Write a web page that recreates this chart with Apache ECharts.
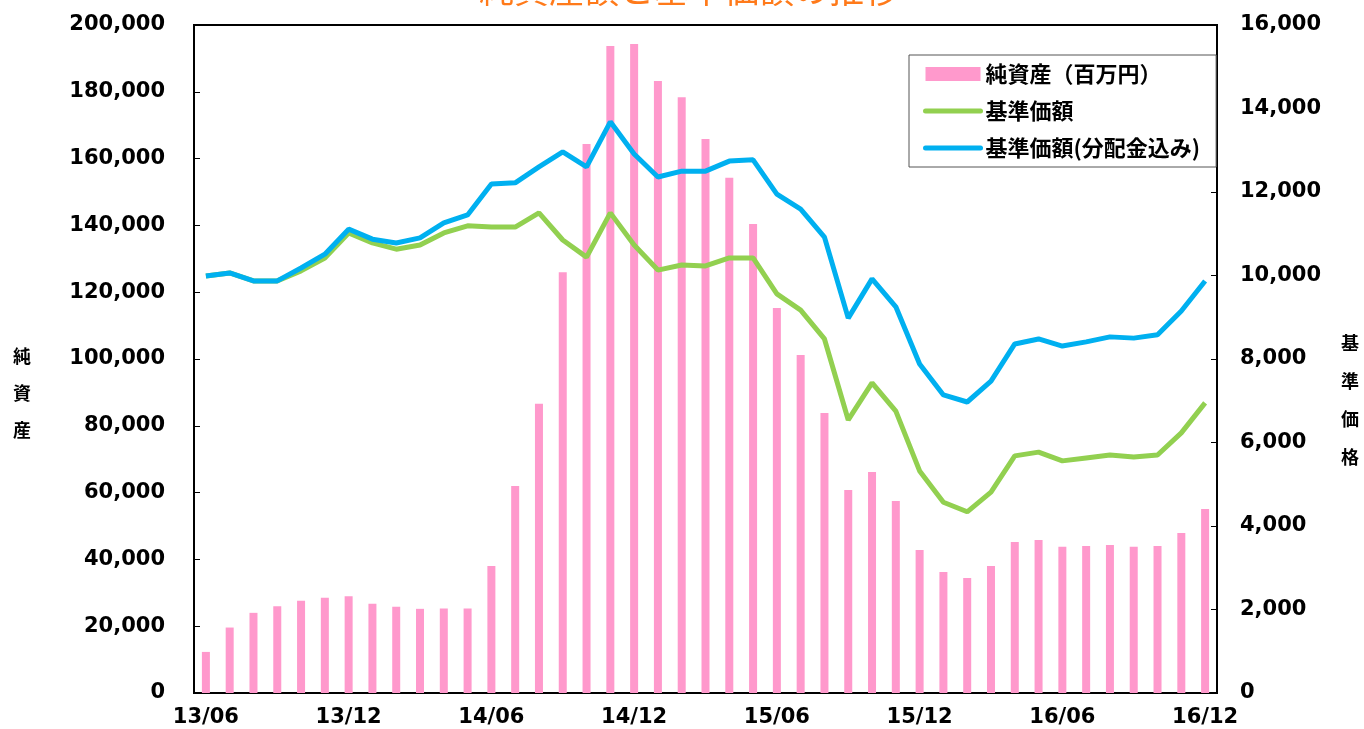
<!DOCTYPE html>
<html>
<head>
<meta charset="utf-8">
<style>
  html, body { margin: 0; padding: 0; background: #fff; }
  #chart { width: 1364px; height: 729px; }
</style>
<script src="https://cdn.jsdelivr.net/npm/echarts@6/dist/echarts.min.js"></script>
</head>
<body>
<div id="chart"></div>
<script>
// months 13/06 .. 16/12
var months = [
  "13/06", "13/07", "13/08", "13/09", "13/10", "13/11", "13/12",
  "14/01", "14/02", "14/03", "14/04", "14/05", "14/06", "14/07", "14/08", "14/09", "14/10", "14/11", "14/12",
  "15/01", "15/02", "15/03", "15/04", "15/05", "15/06", "15/07", "15/08", "15/09", "15/10", "15/11", "15/12",
  "16/01", "16/02", "16/03", "16/04", "16/05", "16/06", "16/07", "16/08", "16/09", "16/10", "16/11", "16/12"
];

// 純資産（百万円）
var netAssets = [
  12300, 19600, 24000, 26000, 27600, 28500, 29000,
  26700, 25800, 25200, 25300, 25300, 38000, 62000, 86600, 126000, 164400, 193700, 194300,
  183200, 178400, 165900, 154300, 140400, 115300, 101200, 83800, 60800, 66200, 57500, 42800,
  36200, 34400, 38000, 45200, 45800, 43800, 44000, 44300, 43800, 44000, 47900, 55100
];

// 基準価額
var nav = [
  9990, 10060, 9870, 9870, 10110, 10420, 11020,
  10780, 10630, 10730, 11020, 11190, 11160, 11160, 11500, 10850, 10440, 11500, 10730,
  10130, 10250, 10230, 10420, 10420, 9560, 9170, 8480, 6540, 7430, 6750, 5320,
  4570, 4340, 4810, 5680, 5770, 5560, 5630, 5700, 5650, 5700, 6230, 6950
];

// 基準価額(分配金込み)
var navWithDiv = [
  9990, 10060, 9870, 9870, 10180, 10510, 11110,
  10870, 10780, 10900, 11260, 11450, 12190, 12220, 12600, 12960, 12600, 13680, 12910,
  12360, 12500, 12500, 12740, 12770, 11950, 11590, 10920, 8980, 9920, 9250, 7880,
  7140, 6970, 7470, 8360, 8480, 8310, 8410, 8530, 8500, 8580, 9150, 9870
];

var FONT = "'DejaVu Sans', 'Noto Sans CJK JP', sans-serif";
var CJK = "'Noto Sans CJK JP', sans-serif";

var chart = echarts.init(document.getElementById("chart"));

function thousands(v) {
  return v.toLocaleString("en-US");
}

chart.setOption({
  animation: false,
  backgroundColor: "#fff",
  textStyle: { fontFamily: FONT },
  grid: {
    left: 194,
    right: 147,
    top: 25,
    bottom: 36,
    show: true,
    borderColor: "#000",
    borderWidth: 2,
    backgroundColor: "transparent"
  },
  legend: {
    orient: "vertical",
    left: 909,
    top: 55,
    padding: [8, 16, 8, 14],
    itemGap: 15,
    itemWidth: 55,
    itemHeight: 14,
    backgroundColor: "#fff",
    borderColor: "#555",
    borderWidth: 1,
    textStyle: { fontFamily: CJK, fontSize: 22, fontWeight: "bold", color: "#000" },
    data: [
      { name: "純資産（百万円）", icon: "rect" },
      { name: "基準価額", itemStyle: { opacity: 0 }, lineStyle: { width: 5, cap: "round" } },
      { name: "基準価額(分配金込み)", itemStyle: { opacity: 0 }, lineStyle: { width: 5, cap: "round" } }
    ]
  },
  graphic: [
    {
      type: "text",
      x: 689,
      y: -28,
      style: {
        text: "純資産額と基準価額の推移",
        font: "35px " + CJK,
        fill: "#FF7A1A",
        textAlign: "center",
        textVerticalAlign: "top"
      }
    },
    {
      type: "text",
      x: 22,
      y: 393,
      style: {
        text: "純\n資\n産",
        font: "bold 18px " + CJK,
        lineHeight: 37,
        fill: "#000",
        textAlign: "center",
        textVerticalAlign: "middle"
      }
    },
    {
      type: "text",
      x: 1350,
      y: 400,
      style: {
        text: "基\n準\n価\n格",
        font: "bold 18px " + CJK,
        lineHeight: 38,
        fill: "#000",
        textAlign: "center",
        textVerticalAlign: "middle"
      }
    }
  ],
  xAxis: {
    type: "category",
    data: months,
    boundaryGap: true,
    axisLine: { lineStyle: { color: "#000", width: 2 } },
    axisTick: { inside: true, interval: 2, length: 6, lineStyle: { color: "#000" } },
    axisLabel: {
      interval: 5,
      margin: 14,
      color: "#000",
      fontSize: 21,
      fontWeight: "bold",
      fontFamily: FONT
    },
    splitLine: { show: false }
  },
  yAxis: [
    {
      type: "value",
      min: 0,
      max: 200000,
      interval: 20000,
      axisLine: { show: true, lineStyle: { color: "#000", width: 2 } },
      axisTick: { show: true, inside: true, length: 6, lineStyle: { color: "#000" } },
      axisLabel: {
        margin: 29,
        color: "#000",
        fontSize: 21,
        fontWeight: "bold",
        fontFamily: FONT,
        formatter: thousands
      },
      splitLine: { show: false }
    },
    {
      type: "value",
      min: 0,
      max: 16000,
      interval: 2000,
      position: "right",
      axisLine: { show: true, lineStyle: { color: "#000", width: 2 } },
      axisTick: { show: true, inside: true, length: 6, lineStyle: { color: "#000" } },
      axisLabel: {
        margin: 23,
        color: "#000",
        fontSize: 21,
        fontWeight: "bold",
        fontFamily: FONT,
        formatter: thousands
      },
      splitLine: { show: false }
    }
  ],
  series: [
    {
      name: "純資産（百万円）",
      type: "bar",
      yAxisIndex: 0,
      barWidth: 8,
      itemStyle: { color: "#FF99CC" },
      data: netAssets
    },
    {
      name: "基準価額",
      type: "line",
      yAxisIndex: 1,
      symbol: "none",
      lineStyle: { color: "#92D050", width: 5 },
      itemStyle: { color: "#92D050" },
      data: nav,
      z: 3
    },
    {
      name: "基準価額(分配金込み)",
      type: "line",
      yAxisIndex: 1,
      symbol: "none",
      lineStyle: { color: "#00B0F0", width: 5 },
      itemStyle: { color: "#00B0F0" },
      data: navWithDiv,
      z: 4
    }
  ]
});
</script>
</body>
</html>
